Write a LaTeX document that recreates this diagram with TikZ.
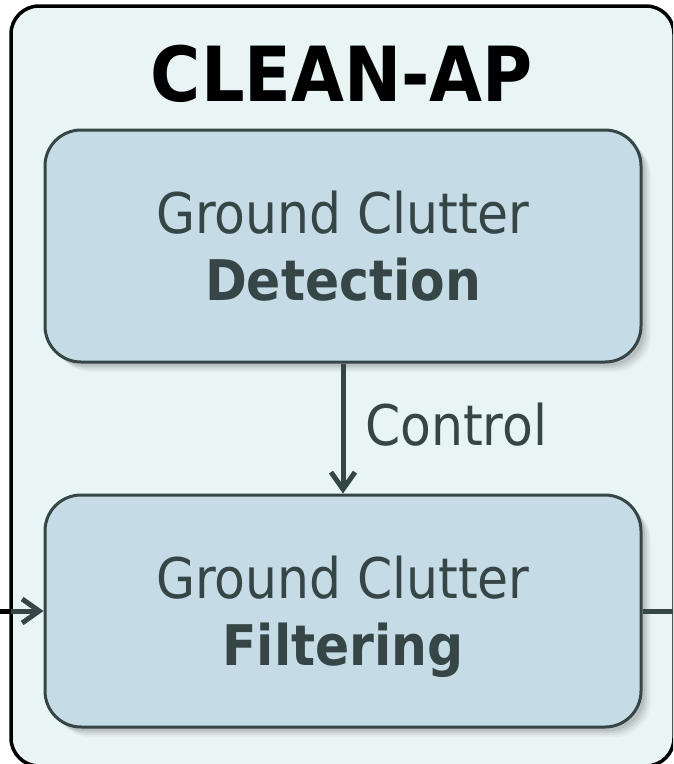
\documentclass[tikz,border=0pt]{standalone}
\usepackage{fontspec}
\setmainfont{DejaVu Sans Condensed}[BoldFont={DejaVu Sans Condensed Bold}]
\usetikzlibrary{arrows.meta}
\definecolor{panelfill}{HTML}{E9F4F5}
\definecolor{boxfill}{HTML}{C5DCE6}
\definecolor{ink}{HTML}{364545}
\tikzset{
  panel/.style={draw=black, line width=3.5pt, fill=panelfill, rounded corners=28pt},
  stagebox/.style={draw=ink, line width=3pt, fill=boxfill, rounded corners=36pt,
    minimum width=596pt, minimum height=232pt, inner sep=0pt},
  softshadow/.style={fill=black, opacity=#1, rounded corners=36pt},
  flow/.style={draw=ink, line width=5pt},
  barb/.style={-{Straight Barb[length=17pt,width=24pt,line width=5pt]}},
  flowarrow/.style={flow, barb},
  lbl/.style={text=ink, font=\fontsize{56}{60}\selectfont, anchor=base, inner sep=0pt},
}
\begin{document}
\begin{tikzpicture}[x=1pt,y=-1pt]
\useasboundingbox (0,0) rectangle (673,764);
\clip (0,0) rectangle (673,764);
% outer panel
\draw[panel] (11,6) rectangle (674,766);
\node[anchor=base, inner sep=0pt, font=\bfseries\fontsize{76}{80}\selectfont] (title) at (342,101) {CLEAN-AP};
% soft shadows under the two stages
\foreach \y in {130,495}{
  \foreach \d/\o in {10/0.03,8/0.05,6/0.06,4/0.08}{
    \fill[softshadow=\o] (45+\d,\y+\d) rectangle (641+\d,\y+232+\d);
  }
}
% stages
\node[stagebox] (det) at (343,246) {};
\node[stagebox] (filt) at (343,611) {};
\node[lbl] (detA) at (343,233) {Ground Clutter};
\node[lbl] (detB) at (343,300) {\bfseries Detection};
\node[lbl] (filA) at (343,598) {Ground Clutter};
\node[lbl] (filB) at (343,665) {\bfseries Filtering};
% control link
\draw[flowarrow] (det.south) -- (filt.north);
\node[lbl, anchor=base west] (ctl) at (365,445) {Control};
% input and output
\coordinate (in) at (0,611);
\coordinate (edge) at (11,611);
\coordinate (out) at (673,611);
\draw[line width=5pt, draw=black] (in) -- (edge);
\draw[flowarrow] (edge) -- (filt.west);
\draw[flow] (filt.east) -- (out);
\end{tikzpicture}
\end{document}
